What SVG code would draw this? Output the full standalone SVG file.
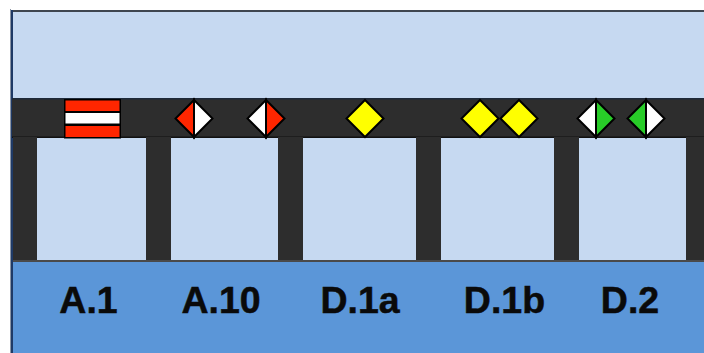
<svg xmlns="http://www.w3.org/2000/svg" width="704" height="353" viewBox="0 0 704 353">
<style>
.dark{fill:#2d2d2d}
.sig{stroke:#000;stroke-width:2;stroke-linejoin:miter}
.r{fill:#ff2600}.w{fill:#fff}.y{fill:#ffff00}.g{fill:#28cc28}
.lbl{font:bold 37.5px "Liberation Sans",Arial,sans-serif;fill:#0a0a0a;stroke:#0a0a0a;stroke-width:.5;text-anchor:middle}
</style>
<rect width="704" height="353" fill="#fff"/>
<g id="background">
<rect x="10" y="10" width="694" height="252" fill="#c6d9f1"/>
<rect x="10" y="262" width="694" height="91" fill="#5b96d8"/>
<rect x="10" y="10" width="694" height="2" fill="#3f4650"/>
<rect x="10" y="9" width="1" height="344" fill="#8a94a4"/>
<rect x="11" y="10" width="2" height="343" fill="#1f3a66"/>
</g>
<g id="track">
<rect class="dark" x="12" y="99" width="692" height="38"/>
<rect x="12" y="98" width="692" height="1.500" fill="#1e2a3a"/>
<rect x="12" y="136.500" width="692" height="1.500" fill="#111"/>
<rect class="dark" x="13" y="137" width="24" height="124"/>
<rect class="dark" x="146" y="137" width="25" height="124"/>
<rect class="dark" x="278" y="137" width="25" height="124"/>
<rect class="dark" x="416" y="137" width="25" height="124"/>
<rect class="dark" x="554" y="137" width="25" height="124"/>
<rect class="dark" x="686" y="137" width="18" height="124"/>
<rect x="13" y="260" width="691" height="2" fill="#4a4a4a"/>
</g>
<g id="sign-a1">
<rect x="64" y="99" width="57" height="39.500" fill="#000"/>
<rect class="r" x="65.500" y="100.500" width="54" height="10.500"/>
<rect class="w" x="65.500" y="113" width="54" height="10.500"/>
<rect class="r" x="65.500" y="126" width="54" height="11"/>
</g>
<g id="sign-a10-1">
<polygon class="sig w" points="194,100 212.500,118.500 194,137"/>
<polygon class="sig r" points="194,100 175.500,118.500 194,137"/>
</g>
<g id="sign-a10-2">
<polygon class="sig w" points="266,100 247.500,118.500 266,137"/>
<polygon class="sig r" points="266,100 284.500,118.500 266,137"/>
</g>
<g id="sign-d1a">
<polygon class="sig y" points="365,100 383.500,118.500 365,137 346.500,118.500"/>
</g>
<g id="sign-d1b-1">
<polygon class="sig y" points="480,100 498.500,118.500 480,137 461.500,118.500"/>
</g>
<g id="sign-d1b-2">
<polygon class="sig y" points="519,100 537.500,118.500 519,137 500.500,118.500"/>
</g>
<g id="sign-d2-1">
<polygon class="sig w" points="596,100 577.500,118.500 596,137"/>
<polygon class="sig g" points="596,100 614.500,118.500 596,137"/>
</g>
<g id="sign-d2-2">
<polygon class="sig w" points="646,100 664.500,118.500 646,137"/>
<polygon class="sig g" points="646,100 627.500,118.500 646,137"/>
</g>
<g id="labels">
<text class="lbl" x="88.500" y="313">A.1</text>
<text class="lbl" x="221" y="313">A.10</text>
<text class="lbl" x="360" y="313">D.1a</text>
<text class="lbl" x="504.500" y="313">D.1b</text>
<text class="lbl" x="630" y="313">D.2</text>
</g>
</svg>
